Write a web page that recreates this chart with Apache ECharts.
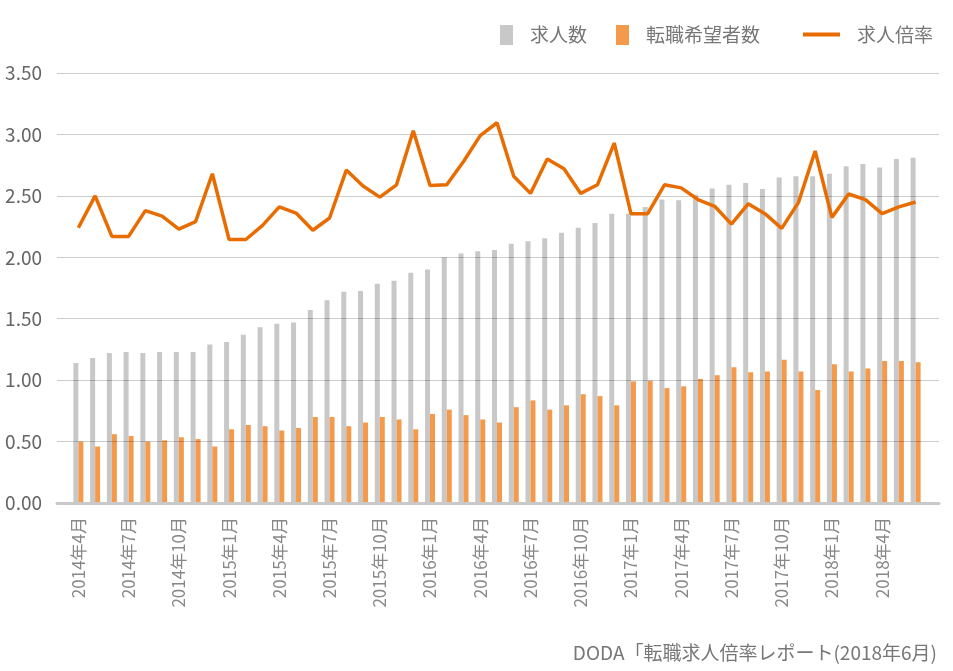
<!DOCTYPE html>
<html>
<head>
<meta charset="utf-8">
<script src="https://cdn.jsdelivr.net/npm/echarts@6/dist/echarts.min.js"></script>
<style>
html,body{margin:0;padding:0;background:#fff;}
#c{width:953px;height:671px;}
</style>
</head>
<body>
<div id="c"></div>
<script>
var months = [
"2014年4月","2014年5月","2014年6月","2014年7月","2014年8月","2014年9月","2014年10月","2014年11月","2014年12月",
"2015年1月","2015年2月","2015年3月","2015年4月","2015年5月","2015年6月","2015年7月","2015年8月","2015年9月",
"2015年10月","2015年11月","2015年12月","2016年1月","2016年2月","2016年3月","2016年4月","2016年5月","2016年6月",
"2016年7月","2016年8月","2016年9月","2016年10月","2016年11月","2016年12月","2017年1月","2017年2月","2017年3月",
"2017年4月","2017年5月","2017年6月","2017年7月","2017年8月","2017年9月","2017年10月","2017年11月","2017年12月",
"2018年1月","2018年2月","2018年3月","2018年4月","2018年5月","2018年6月"
];
var kyujin = [
1.14,1.18,1.22,1.23,1.22,1.23,1.23,1.23,1.29,
1.31,1.37,1.43,1.46,1.47,1.57,1.65,1.72,1.725,
1.785,1.81,1.875,1.90,2.00,2.03,2.05,2.06,2.11,
2.13,2.155,2.20,2.24,2.28,2.355,2.355,2.41,2.47,
2.465,2.51,2.56,2.59,2.605,2.555,2.65,2.66,2.66,
2.68,2.74,2.76,2.73,2.80,2.81
];
var tenshoku = [
0.50,0.46,0.56,0.545,0.50,0.51,0.535,0.52,0.46,
0.60,0.635,0.625,0.59,0.61,0.70,0.70,0.625,0.655,
0.70,0.68,0.60,0.725,0.76,0.715,0.68,0.655,0.78,
0.835,0.76,0.795,0.885,0.87,0.795,0.99,0.995,0.935,
0.95,1.01,1.04,1.105,1.065,1.07,1.165,1.07,0.92,
1.13,1.07,1.095,1.155,1.155,1.145
];
var bairitsu = [
2.24,2.50,2.17,2.17,2.38,2.335,2.23,2.29,2.68,
2.145,2.145,2.26,2.41,2.36,2.22,2.32,2.71,2.58,
2.49,2.59,3.03,2.585,2.59,2.78,2.99,3.095,2.66,
2.52,2.80,2.72,2.52,2.59,2.93,2.355,2.355,2.59,
2.565,2.47,2.415,2.27,2.435,2.355,2.235,2.445,2.865,
2.325,2.515,2.47,2.355,2.41,2.45
];
var yTicks = {min:0, max:3.5, interval:0.5};
var sourceText = "DODA「転職求人倍率レポート(2018年6月)";

var FONT = '"Noto Sans CJK JP","Noto Sans",sans-serif';
var chart = echarts.init(document.getElementById('c'), null, {renderer:'canvas'});
chart.setOption({
  backgroundColor:'#ffffff',
  animation:false,
  textStyle:{fontFamily:FONT},
  title:{
    text: sourceText, right:16, top:643, padding:0,
    textStyle:{fontSize:19, fontWeight:'normal', color:'#777777', fontFamily:FONT}
  },
  legend:[
    {
      data:[{name:'求人数',icon:'rect'},{name:'転職希望者数',icon:'rect'}],
      left:500, top:25, padding:0, itemWidth:13, itemHeight:20, itemGap:29,
      selectedMode:false,
      textStyle:{fontSize:19, color:'#777777', fontFamily:FONT, padding:[0,0,0,12]}
    },
    {
      data:[{name:'求人倍率',icon:'rect'}],
      left:803, top:25, padding:0, itemWidth:37, itemHeight:4,
      selectedMode:false,
      textStyle:{fontSize:19, color:'#777777', fontFamily:FONT, padding:[0,0,0,12]}
    }
  ],
  grid:[
    {left:57, right:14, top:73, bottom:168},
    {left:70, right:29, top:73, bottom:168}
  ],
  xAxis:[
    {type:'value', gridIndex:0, min:0, max:1, z:3,
     axisLine:{show:true, lineStyle:{color:'#c9c9c9', width:3}},
     axisTick:{show:false}, axisLabel:{show:false}, splitLine:{show:false}},
    {type:'category', gridIndex:1, data:months, boundaryGap:true,
     axisLine:{show:false}, axisTick:{show:false}, splitLine:{show:false},
     axisLabel:{interval:2, rotate:90, margin:14, fontSize:17, color:'#888888', fontFamily:FONT}}
  ],
  yAxis:[
    {type:'value', gridIndex:0, min:yTicks.min, max:yTicks.max, interval:yTicks.interval, z:3,
     axisLine:{show:false}, axisTick:{show:false},
     axisLabel:{margin:15, fontSize:19, color:'#666666', fontFamily:FONT,
       formatter:function(v){return v.toFixed(2);}},
     splitLine:{show:true, lineStyle:{color:'rgba(0,0,0,0.2)', width:1}}},
    {type:'value', gridIndex:1, min:yTicks.min, max:yTicks.max, interval:yTicks.interval, show:false,
     splitLine:{show:false}}
  ],
  series:[
    {name:'求人数', type:'bar', xAxisIndex:1, yAxisIndex:1, data:kyujin,
     barWidth:5, barGap:'0%', itemStyle:{color:'#c8c8c8'}, z:2},
    {name:'転職希望者数', type:'bar', xAxisIndex:1, yAxisIndex:1, data:tenshoku,
     barWidth:5, barGap:'0%', itemStyle:{color:'#f39a4c'}, z:2},
    {name:'求人倍率', type:'line', xAxisIndex:1, yAxisIndex:1, data:bairitsu,
     showSymbol:false, symbol:'none', z:5,
     lineStyle:{color:'#e86c00', width:3.5}, itemStyle:{color:'#e86c00'}}
  ]
});
</script>
</body>
</html>
